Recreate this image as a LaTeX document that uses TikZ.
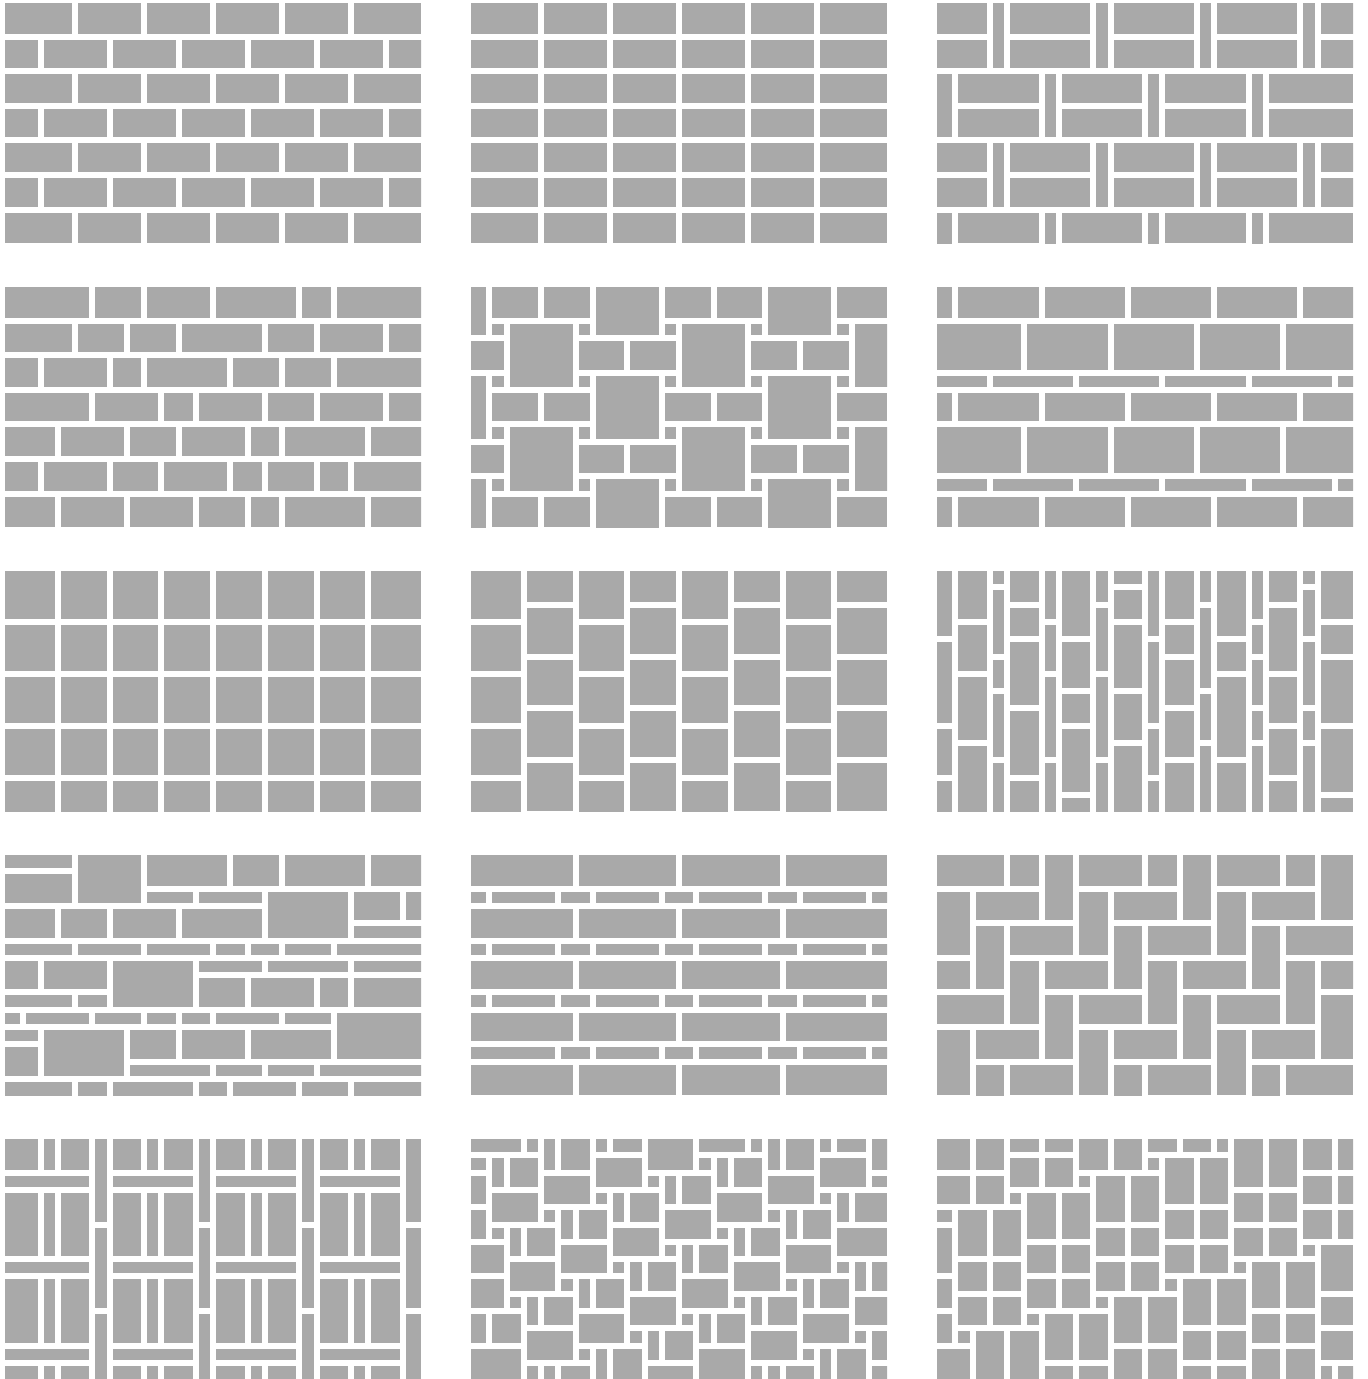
\documentclass[tikz,border=0pt]{standalone}
\usepackage{xcolor}
\usepackage{tikz}
\definecolor{paving}{HTML}{A9A9A9}
\tikzset{stone/.style={fill=paving}}
\newcommand\paver[4]{%
  \pgfmathsetmacro\pxa{4+17.25*(#1)}%
  \pgfmathsetmacro\pya{2+17.3*(#2)}%
  \pgfmathsetmacro\pxb{17.25*(#3)-2}%
  \pgfmathsetmacro\pyb{17.3*(#4)-4}%
  \pgfmathtruncatemacro\pin{and(and(\pxa<416,\pya<240),and(\pxb>0,\pyb>0))}%
  \ifnum\pin=1
    \pgfmathsetmacro\pxa{and(\pxa>0,\pxa<8) ? 0 : \pxa}%
    \pgfmathsetmacro\pya{and(\pya>0,\pya<8) ? 0 : \pya}%
    \pgfmathsetmacro\pxb{and(\pxb>408,\pxb<416) ? 416 : \pxb}%
    \pgfmathsetmacro\pyb{and(\pyb>232,\pyb<240) ? 240 : \pyb}%
    \fill[stone] (\pxa,\pya) rectangle (\pxb,\pyb);
  \fi}

\begin{document}
\begin{tikzpicture}[x=0.02cm, y=-0.02cm]
    \fill[white] (0,0) rectangle (1367,1379);

    \begin{scope}[shift={(5,3)}]
        \clip (0,0) rectangle (416,240);
        \foreach \rr in {0,...,6}
            \foreach \kk in {-1,...,6}
                {\paver{4*\kk+2*mod(\rr,2)}{2*\rr}{4*\kk+2*mod(\rr,2)+4}{2*\rr+2}}
    \end{scope}

    \begin{scope}[shift={(471,3)}]
        \clip (0,0) rectangle (416,240);
        \foreach \rr in {0,...,6}
            \foreach \kk in {0,...,5}
                {\paver{4*\kk}{2*\rr}{4*\kk+4}{2*\rr+2}}
    \end{scope}

    \begin{scope}[shift={(937,3)}]
        \clip (0,0) rectangle (416,240);
        \foreach \pp in {0,...,3}
            \foreach \kk in {-1,...,4} {
                \pgfmathtruncatemacro\vv{3+3*mod(\pp,2)+6*\kk}
                \paver{\vv}{4*\pp}{\vv+1}{4*\pp+4}
                \paver{\vv+1}{4*\pp}{\vv+6}{4*\pp+2}
                \paver{\vv+1}{4*\pp+2}{\vv+6}{4*\pp+4}}
    \end{scope}

    \begin{scope}[shift={(5,287)}]
        \clip (0,0) rectangle (416,240);
        \foreach \rr/\ia/\ib in {0/0/5, 0/5/8, 0/8/12, 0/12/17, 0/17/19, 0/19/25,
                1/0/4, 1/4/7, 1/7/10, 1/10/15, 1/15/18, 1/18/22, 1/22/25,
                2/0/2, 2/2/6, 2/6/8, 2/8/13, 2/13/16, 2/16/19, 2/19/25,
                3/0/5, 3/5/9, 3/9/11, 3/11/15, 3/15/18, 3/18/22, 3/22/25,
                4/0/3, 4/3/7, 4/7/10, 4/10/14, 4/14/16, 4/16/21, 4/21/25,
                5/0/2, 5/2/6, 5/6/9, 5/9/13, 5/13/15, 5/15/18, 5/18/20, 5/20/25,
                6/0/3, 6/3/7, 6/7/11, 6/11/14, 6/14/16, 6/16/21, 6/21/25}
            {\paver{\ia}{2*\rr}{\ib}{2*\rr+2}}
    \end{scope}

    \begin{scope}[shift={(471,287)}]
        \clip (0,0) rectangle (416,240);
        \foreach \mm in {-1,...,2}
            \foreach \nn in {0,...,2} {
                \paver{2+10*\mm}{2+6*\nn}{6+10*\mm}{6+6*\nn}
                \paver{7+10*\mm}{6*\nn-1}{11+10*\mm}{6*\nn+3}
                \paver{1+10*\mm}{6*\nn}{4+10*\mm}{6*\nn+2}
                \paver{4+10*\mm}{6*\nn}{7+10*\mm}{6*\nn+2}
                \paver{6+10*\mm}{6*\nn+3}{9+10*\mm}{6*\nn+5}
                \paver{9+10*\mm}{6*\nn+3}{12+10*\mm}{6*\nn+5}}
        \foreach \mm in {0,...,4}
            \foreach \nn in {0,...,4}
                {\paver{1+5*\mm}{2+3*\nn}{2+5*\mm}{3+3*\nn}}
    \end{scope}

    \begin{scope}[shift={(937,287)}]
        \clip (0,0) rectangle (416,240);
        \foreach \nn in {0,...,2}
            \foreach \kk in {-1,...,4} {
                \paver{1+5*\kk}{6*\nn}{6+5*\kk}{6*\nn+2}
                \paver{5*\kk}{6*\nn+2}{5*\kk+5}{6*\nn+5}
                \paver{3+5*\kk}{6*\nn+5}{8+5*\kk}{6*\nn+6}}
    \end{scope}

    \begin{scope}[shift={(5,571)}]
        \clip (0,0) rectangle (416,240);
        \foreach \rr in {0,...,4}
            \foreach \kk in {0,...,7}
                {\paver{3*\kk}{3*\rr}{3*\kk+3}{3*\rr+3}}
    \end{scope}

    \begin{scope}[shift={(471,571)}]
        \clip (0,0) rectangle (416,240);
        \foreach \kk in {0,...,7}
            \foreach \nn in {0,...,5} {
                \pgfmathtruncatemacro\jj{3*\nn-mod(\kk,2)}
                \paver{3*\kk}{\jj}{3*\kk+3}{\jj+3}}
    \end{scope}

    \begin{scope}[shift={(937,571)}]
        \clip (0,0) rectangle (416,240);
        \foreach \cl/\ja/\jb in {0/0/4, 0/4/9, 0/9/12, 0/12/16,
                1/0/3, 1/3/6, 1/6/10, 1/10/15,
                2/-3/1, 2/1/5, 2/5/7, 2/7/11, 2/11/15,
                3/-2/2, 3/2/4, 3/4/8, 3/8/12, 3/12/16,
                4/0/3, 4/3/6, 4/6/11, 4/11/15,
                5/0/4, 5/4/7, 5/7/9, 5/9/13, 5/13/16,
                6/-2/2, 6/2/6, 6/6/11, 6/11/15,
                7/-1/1, 7/1/3, 7/3/7, 7/7/10, 7/10/15,
                8/0/4, 8/4/9, 8/9/12, 8/12/16,
                9/0/3, 9/3/5, 9/5/8, 9/8/11, 9/11/15,
                10/-2/2, 10/2/7, 10/7/10, 10/10/15,
                11/0/4, 11/4/6, 11/6/11, 11/11/15,
                12/0/3, 12/3/5, 12/5/8, 12/8/10, 12/10/15,
                13/-2/2, 13/2/6, 13/6/9, 13/9/12, 13/12/16,
                14/-1/1, 14/1/4, 14/4/8, 14/8/10, 14/10/15,
                15/0/3, 15/3/5, 15/5/9, 15/9/13, 15/13/16} {
            \pgfmathtruncatemacro\ci{floor(3*\cl/2)}
            \pgfmathtruncatemacro\cw{1+mod(\cl,2)}
            \paver{\ci}{\ja}{\ci+\cw}{\jb}}
    \end{scope}

    \begin{scope}[shift={(5,855)}]
        \clip (0,0) rectangle (416,240);
        \foreach \ia/\ja/\ib/\jb in {0/0/4/1, 0/1/4/3, 4/0/8/3, 8/0/13/2, 13/0/16/2, 16/0/21/2, 21/0/25/2,
                8/2/11/3, 11/2/15/3, 15/2/20/5, 20/2/23/4, 23/2/25/4, 20/4/25/5,
                0/3/3/5, 3/3/6/5, 6/3/10/5, 10/3/15/5,
                0/5/4/6, 4/5/8/6, 8/5/12/6, 12/5/14/6, 14/5/16/6, 16/5/19/6, 19/5/25/6,
                0/6/2/8, 2/6/6/8, 0/8/4/9, 4/8/6/9, 6/6/11/9, 11/6/15/7, 15/6/20/7, 20/6/25/7,
                11/7/14/9, 14/7/18/9, 18/7/20/9, 20/7/25/9,
                0/9/1/10, 1/9/5/10, 5/9/8/10, 8/9/10/10, 10/9/12/10, 12/9/16/10, 16/9/19/10, 19/9/25/12,
                0/10/2/11, 0/11/2/13, 2/10/7/13, 7/10/10/12, 10/10/14/12, 14/10/19/12,
                7/12/12/13, 12/12/15/13, 15/12/18/13, 18/12/25/13,
                0/13/4/15, 4/13/6/15, 6/13/11/15, 11/13/13/15, 13/13/17/15, 17/13/20/15, 20/13/25/15}
            {\paver{\ia}{\ja}{\ib}{\jb}}
    \end{scope}

    \begin{scope}[shift={(471,855)}]
        \clip (0,0) rectangle (416,240);
        \foreach \rr in {0,...,4}
            \foreach \kk in {0,...,3}
                {\paver{6*\kk}{3*\rr}{6*\kk+6}{3*\rr+2}}
        \foreach \rr in {0,...,3}
            \foreach \kk in {-1,...,3} {
                \paver{6*\kk+1}{3*\rr+2}{6*\kk+5}{3*\rr+3}
                \paver{6*\kk+5}{3*\rr+2}{6*\kk+7}{3*\rr+3}}
        \paver{-1}{11}{5}{12}
    \end{scope}

    \begin{scope}[shift={(937,855)}]
        \clip (0,0) rectangle (416,240);
        \foreach \mm in {-1,...,7}
            \foreach \kk in {-1,...,3} {
                \pgfmathtruncatemacro\hh{mod(2*\mm+16,8)+8*\kk}
                \pgfmathtruncatemacro\vv{mod(2*\mm+22,8)+8*\kk}
                \paver{\hh}{2*\mm}{\hh+4}{2*\mm+2}
                \paver{\vv}{2*\mm}{\vv+2}{2*\mm+4}}
    \end{scope}

    \begin{scope}[shift={(5,1139)}]
        \clip (0,0) rectangle (416,240);
        \foreach \kk in {0,...,3} {
            \foreach \nn in {0,...,3} {
                \paver{6*\kk}{5*\nn-2}{6*\kk+2}{5*\nn+2}
                \paver{6*\kk+2}{5*\nn-2}{6*\kk+3}{5*\nn+2}
                \paver{6*\kk+3}{5*\nn-2}{6*\kk+5}{5*\nn+2}
                \paver{6*\kk}{5*\nn+2}{6*\kk+5}{5*\nn+3}}
            \foreach \nn in {0,...,2}
                {\paver{6*\kk+5}{5*\nn}{6*\kk+6}{5*\nn+5}}}
    \end{scope}

    \begin{scope}[shift={(471,1139)}]
        \clip (0,0) rectangle (416,240);
        \foreach \bq in {-4,...,14}
            \foreach \tq in {-1,...,2} {
                \pgfmathtruncatemacro\ax{mod(42-3*\bq,13)+13*\tq}
                \paver{\ax}{\bq}{\ax+1}{\bq+1}
                \paver{\ax+1}{\bq}{\ax+2}{\bq+2}
                \paver{\ax+2}{\bq}{\ax+4}{\bq+2}
                \paver{\ax+1}{\bq+2}{\ax+4}{\bq+4}}
    \end{scope}

    \begin{scope}[shift={(937,1139)}]
        \clip (0,0) rectangle (416,240);
        \foreach \bq in {-3,...,18}
            \foreach \tq in {-1,0} {
                \pgfmathtruncatemacro\ax{mod(132-4*\bq,29)+29*\tq}
                \paver{\ax}{\bq}{\ax+1}{\bq+1}
                \paver{\ax+1}{\bq}{\ax+3}{\bq+3}
                \paver{\ax+3}{\bq}{\ax+5}{\bq+3}
                \paver{\ax}{\bq-4}{\ax+2}{\bq-2}
                \paver{\ax+2}{\bq-4}{\ax+4}{\bq-2}
                \paver{\ax}{\bq-2}{\ax+2}{\bq}
                \paver{\ax+2}{\bq-2}{\ax+4}{\bq}}
    \end{scope}
\end{tikzpicture}
\end{document}
